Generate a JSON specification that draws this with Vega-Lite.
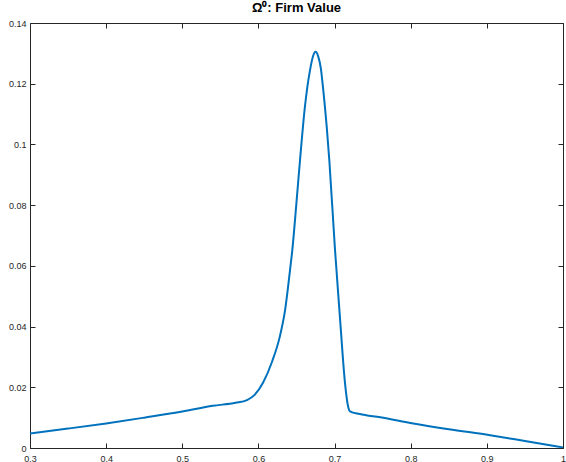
{
  "$schema": "https://vega.github.io/schema/vega-lite/v6.json",
  "width": 533,
  "height": 425,
  "autosize": {"type": "none"},
  "padding": {"left": 30, "top": 23, "right": 3, "bottom": 14},
  "background": "white",
  "title": {"text": "Ω⁰: Firm Value", "font": "Liberation Sans", "fontSize": 13, "fontWeight": "bold", "color": "#000000", "offset": 4},
  "config": {"view": {"stroke": null}},
  "data": {"values": [
    {"x": 0.300, "y": 0.0048},
    {"x": 0.350, "y": 0.0064},
    {"x": 0.400, "y": 0.0081},
    {"x": 0.450, "y": 0.0100},
    {"x": 0.500, "y": 0.0120},
    {"x": 0.540, "y": 0.0139},
    {"x": 0.570, "y": 0.0149},
    {"x": 0.585, "y": 0.0158},
    {"x": 0.595, "y": 0.0175},
    {"x": 0.606, "y": 0.0215},
    {"x": 0.618, "y": 0.0285},
    {"x": 0.628, "y": 0.0366},
    {"x": 0.635, "y": 0.0454},
    {"x": 0.6415, "y": 0.0586},
    {"x": 0.6445, "y": 0.0652},
    {"x": 0.650, "y": 0.0810},
    {"x": 0.6546, "y": 0.0948},
    {"x": 0.661, "y": 0.1123},
    {"x": 0.6677, "y": 0.1244},
    {"x": 0.672, "y": 0.1293},
    {"x": 0.6752, "y": 0.1305},
    {"x": 0.6785, "y": 0.1290},
    {"x": 0.682, "y": 0.1250},
    {"x": 0.6852, "y": 0.1178},
    {"x": 0.6897, "y": 0.1058},
    {"x": 0.6931, "y": 0.0948},
    {"x": 0.7006, "y": 0.0652},
    {"x": 0.707, "y": 0.0432},
    {"x": 0.7137, "y": 0.0214},
    {"x": 0.7175, "y": 0.0140},
    {"x": 0.7203, "y": 0.0121},
    {"x": 0.733, "y": 0.0112},
    {"x": 0.760, "y": 0.0101},
    {"x": 0.8034, "y": 0.0081},
    {"x": 0.850, "y": 0.0062},
    {"x": 0.9043, "y": 0.0042},
    {"x": 0.950, "y": 0.0023},
    {"x": 1.000, "y": 0.0002}
  ]},
  "resolve": {"axis": {"x": "independent", "y": "independent"}},
  "layer": [
    {
      "mark": {"type": "line", "color": "#0072BD", "strokeWidth": 2, "interpolate": "monotone", "clip": true},
      "encoding": {
        "x": {"field": "x", "type": "quantitative", "scale": {"domain": [0.3, 1], "nice": false, "zero": false},
          "axis": {"title": null, "orient": "bottom", "values": [0.3,0.4,0.5,0.6,0.7,0.8,0.9,1], "format": "~g", "grid": false,
            "domainColor": "#262626", "domainWidth": 1, "tickColor": "#262626", "tickSize": -5, "labelFont": "Liberation Sans", "labelFontSize": 9, "labelColor": "#262626", "labelPadding": 11, "labelFlush": false}},
        "y": {"field": "y", "type": "quantitative", "scale": {"domain": [0, 0.14], "nice": false},
          "axis": {"title": null, "orient": "left", "values": [0,0.02,0.04,0.06,0.08,0.1,0.12,0.14], "format": "~g", "grid": false,
            "domainColor": "#262626", "domainWidth": 1, "tickColor": "#262626", "tickSize": -5, "labelFont": "Liberation Sans", "labelFontSize": 9, "labelColor": "#262626", "labelPadding": 9, "labelFlush": false}}
      }
    },
    {
      "mark": {"type": "line", "opacity": 0},
      "encoding": {
        "x": {"field": "x", "type": "quantitative", "scale": {"domain": [0.3, 1], "nice": false, "zero": false},
          "axis": {"title": null, "orient": "top", "values": [0.3,0.4,0.5,0.6,0.7,0.8,0.9,1], "labels": false, "grid": false,
            "domainColor": "#262626", "tickColor": "#262626", "tickSize": -5}},
        "y": {"field": "y", "type": "quantitative", "scale": {"domain": [0, 0.14], "nice": false},
          "axis": {"title": null, "orient": "right", "values": [0,0.02,0.04,0.06,0.08,0.1,0.12,0.14], "labels": false, "grid": false,
            "domainColor": "#262626", "tickColor": "#262626", "tickSize": -5}}
      }
    }
  ]
}
